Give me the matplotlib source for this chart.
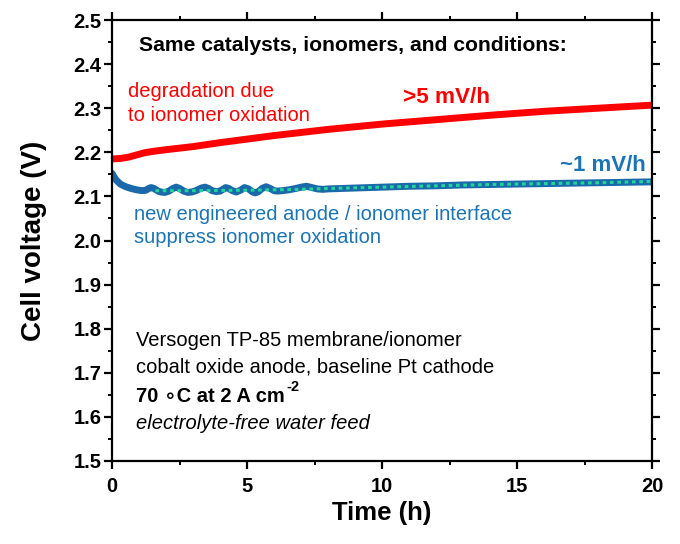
import matplotlib
matplotlib.use("Agg")
import matplotlib.pyplot as plt
from matplotlib.ticker import MultipleLocator, FormatStrFormatter

plt.rcParams['font.family'] = ['Liberation Sans', 'DejaVu Sans']

# Red: baseline anode / ionomer interface
red_t = [0, 0.3, 0.6, 0.9, 1.2, 1.5, 2.0, 3.0, 4.0, 5.0, 6.0, 7.0, 8.0, 9.0, 10.0,
         12.0, 14.0, 16.0, 18.0, 20.0]
red_v = [2.185, 2.186, 2.189, 2.194, 2.199, 2.202, 2.206, 2.213, 2.222, 2.230, 2.238,
         2.245, 2.252, 2.258, 2.264, 2.274, 2.284, 2.293, 2.300, 2.307]

# Blue: new engineered anode / ionomer interface
blue_t = [0, 0.05, 0.15, 0.3, 0.5, 0.7, 0.9, 1.1, 1.25, 1.35, 1.44, 1.55, 1.7, 1.8,
          1.95, 2.1, 2.25, 2.37, 2.5, 2.65, 2.8, 2.95, 3.1, 3.3, 3.44, 3.57, 3.7,
          3.85, 4.0, 4.1, 4.2, 4.32, 4.45, 4.6, 4.75, 4.9, 5.05, 5.2, 5.3, 5.42,
          5.55, 5.7, 5.85, 6.0, 6.1, 6.3, 6.55, 6.8, 7.0, 7.2, 7.4, 7.6, 7.8, 8.0,
          8.5, 9.0, 9.5, 10.0, 10.5, 11.0, 12.0, 13.0, 14.0, 15.0, 16.0, 17.0,
          18.0, 19.0, 20.0]
blue_v = [2.152, 2.146, 2.137, 2.128, 2.122, 2.118, 2.115, 2.113, 2.114, 2.118,
          2.120, 2.118, 2.112, 2.110, 2.109, 2.112, 2.118, 2.121, 2.118, 2.112,
          2.109, 2.110, 2.113, 2.119, 2.121, 2.118, 2.113, 2.111, 2.112, 2.116,
          2.120, 2.118, 2.113, 2.110, 2.114, 2.120, 2.117, 2.110, 2.108, 2.111,
          2.118, 2.122, 2.118, 2.113, 2.112, 2.113, 2.115, 2.118, 2.121, 2.123,
          2.120, 2.117, 2.116, 2.117, 2.118, 2.119, 2.120, 2.121, 2.122, 2.123,
          2.124, 2.126, 2.127, 2.128, 2.129, 2.130, 2.131, 2.132, 2.133]

# Green dotted overlay
green_t = [1.6, 3.0, 5.0, 7.0, 8.0, 10.0, 12.0, 14.0, 16.0, 18.0, 20.0]
green_v = [2.113, 2.113, 2.114, 2.116, 2.118, 2.121, 2.124, 2.127, 2.129, 2.131, 2.134]

RED = '#ff0000'
BLUE = '#1a6aab'
BLUE_TXT = '#1a75b8'
GREEN = '#22d49a'

fig = plt.figure(figsize=(6.8, 5.44), dpi=100)
ax = fig.add_axes([0.165, 0.1526, 0.794, 0.8106])

ax.plot(red_t, red_v, color=RED, lw=5, solid_capstyle='butt', solid_joinstyle='round')
ax.plot(blue_t, blue_v, color=BLUE, lw=5, solid_capstyle='round', solid_joinstyle='round')
ax.plot(green_t, green_v, color=GREEN, lw=2.2, ls=(0, (1.2, 1.2)))

ax.set_xlim(0, 20)
ax.set_ylim(1.5, 2.5)
ax.xaxis.set_major_locator(MultipleLocator(5))
ax.xaxis.set_minor_locator(MultipleLocator(2.5))
ax.yaxis.set_major_locator(MultipleLocator(0.1))
ax.yaxis.set_minor_locator(MultipleLocator(0.05))
ax.yaxis.set_major_formatter(FormatStrFormatter('%.1f'))

for s in ax.spines.values():
    s.set_linewidth(1.6)

ax.tick_params(which='major', direction='out', length=5.8, width=1.6,
               top=True, right=True, labelsize=14.5)
ax.tick_params(which='minor', direction='out', length=2.9, width=1.4,
               top=True, right=True)
ax.tick_params(axis='x', which='major', pad=6)
ax.tick_params(axis='y', which='major', pad=2)
for lab in ax.get_xticklabels() + ax.get_yticklabels():
    lab.set_fontweight('bold')

ax.set_xlabel('Time (h)', fontsize=18.5, fontweight='bold', labelpad=3)
ax.set_ylabel('Cell voltage (V)', fontsize=20, fontweight='bold', labelpad=19)

ax.text(8.9, 2.443, 'Same catalysts, ionomers, and conditions:', ha='center', va='center',
        fontsize=15.2, fontweight='bold', color='black')
ax.text(0.6, 2.337, 'degradation due', ha='left', va='center', fontsize=14.5, color=RED)
ax.text(0.6, 2.283, 'to ionomer oxidation', ha='left', va='center', fontsize=14.5, color=RED)
ax.text(12.4, 2.325, '>5 mV/h', ha='center', va='center', fontsize=16.2,
        fontweight='bold', color=RED)
ax.text(19.75, 2.171, '~1 mV/h', ha='right', va='center', fontsize=16,
        fontweight='bold', color=BLUE_TXT)
ax.text(0.8, 2.06, 'new engineered anode / ionomer interface', ha='left', va='center',
        fontsize=14.5, color=BLUE_TXT)
ax.text(0.8, 2.006, 'suppress ionomer oxidation', ha='left', va='center',
        fontsize=14.5, color=BLUE_TXT)

ax.text(0.9, 1.774, 'Versogen TP-85 membrane/ionomer', ha='left', va='center',
        fontsize=14.5, color='black')
ax.text(0.9, 1.713, 'cobalt oxide anode, baseline Pt cathode', ha='left', va='center',
        fontsize=14.5, color='black')
t70 = ax.text(0.9, 1.647, '70 \u2218C at 2 A cm', ha='left', va='center',
              fontsize=14.5, fontweight='bold', color='black')
ax.annotate('-2', xy=(1.0, 0.62), xycoords=t70, xytext=(0.5, 0), textcoords='offset points',
            ha='left', va='bottom', fontsize=10.5, fontweight='bold', color='black')
ax.text(0.9, 1.584, 'electrolyte-free water feed', ha='left', va='center',
        fontsize=14.5, style='italic', color='black')

fig.savefig('out.png', dpi=100)
